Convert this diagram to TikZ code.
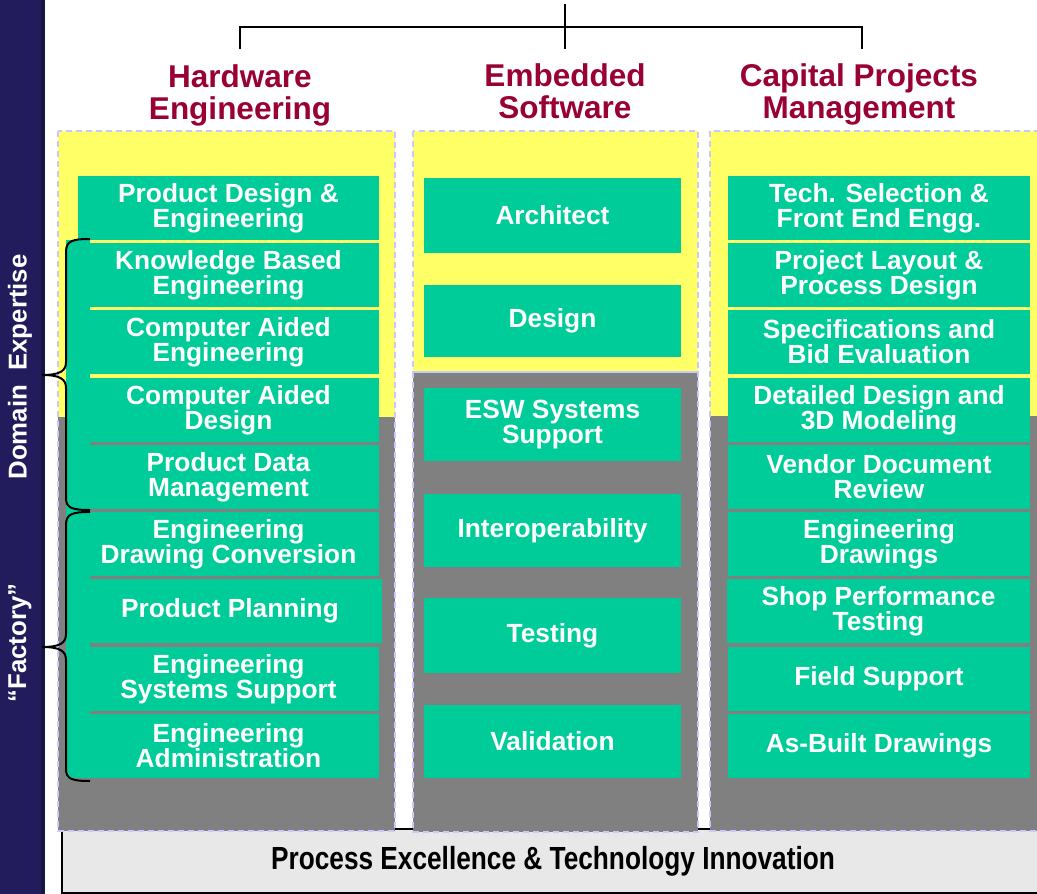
\documentclass[tikz,border=0pt]{standalone}
\usepackage{fontspec}
\setmainfont{Liberation Sans}
\usepackage{graphicx}
\definecolor{boxgreen}{HTML}{00CC99}
\definecolor{colyellow}{HTML}{FFFF66}
\definecolor{colgray}{HTML}{808080}
\definecolor{hdrred}{HTML}{990033}
\definecolor{basegray}{HTML}{E8E8E8}
\definecolor{stripblue}{HTML}{231C5C}
\definecolor{stripdark}{HTML}{191446}
\definecolor{dashlav}{HTML}{C8C8FF}
\newcommand\gbx[6]{\node[gb, minimum width={#4-#2}, minimum height={#5-#3}] (#1) at ({(#2+#4)/2},{(#3+#5)/2}) {#6};}
\begin{document}
\begin{tikzpicture}[x=1pt,y=-1pt,
  gb/.style={fill=boxgreen, text=white, font=\fontsize{26.3}{25}\selectfont\bfseries, align=center, inner sep=0pt},
  hdr/.style={text=hdrred, font=\fontsize{31.5}{32}\selectfont\bfseries, align=center, inner sep=0pt},
  side/.style={text=white, rotate=90, font=\fontsize{25.8}{25}\selectfont\bfseries, inner sep=0pt},
  coldash/.style={draw=dashlav, line width=1.5pt, dash pattern=on 6pt off 4pt},
  tree/.style={draw=black, line width=2pt},
  bracestyle/.style={draw=black, line width=2pt}]
\useasboundingbox (0,0) rectangle (1037,894);
% left strip
\fill[stripblue] (0,0) rectangle (44,894);
\fill[stripdark] (41,0) rectangle (45,894);
\node[side] (dom) at (20,367) {Domain\ \ Expertise};
\node[side] (fac) at (20,643) {“Factory”};
% base bar
\draw[fill=basegray, line width=1.5pt] (62,829) rectangle (1045,893);
\node[font=\fontsize{32}{32}\selectfont\bfseries, inner sep=0pt] (base) at (553,861.5) {\scalebox{0.82}[1]{Process Excellence \& Technology Innovation}};
% columns
\fill[colyellow] (58,131) rectangle (395,417);
\fill[colgray] (58,417) rectangle (395,831);
\draw[coldash] (58,131) rectangle (395,831);
\fill[colyellow] (413,131) rectangle (698,372);
\fill[colgray] (413,372) rectangle (698,832);
\draw[coldash] (413,131) rectangle (698,372);
\draw[coldash] (413,372) rectangle (698,832);
\fill[colyellow] (710,131) rectangle (1045,416);
\fill[colgray] (710,416) rectangle (1045,831);
\draw[coldash] (710,131) rectangle (1045,831);
% headers
\node[hdr] (hw) at (240,95) {Hardware\\Engineering};
\node[hdr] (es) at (565,91) {Embedded\\Software};
\node[hdr] (cp) at (859,94) {Capital Projects\\Management};
% tree
\coordinate (top) at (565,4);
\coordinate (estop) at (565,49);
\coordinate (hwtop) at (240,49);
\coordinate (cptop) at (862,49);
\draw[tree] (hwtop) -- (hwtop |- 0,27) -- (cptop |- 0,27) -- (cptop);
\draw[tree] (top) -- (estop);
% left column boxes
\fill[boxgreen] (66,240) rectangle (90,778);
\gbx{l1}{78}{176}{379}{240}{Product Design \&\\Engineering}
\gbx{l2}{78}{243}{379}{307}{Knowledge Based\\Engineering}
\gbx{l3}{78}{310}{379}{374}{Computer Aided\\Engineering}
\gbx{l4}{78}{378}{379}{442}{Computer Aided\\Design}
\gbx{l5}{78}{445}{379}{509}{Product Data\\Management}
\gbx{l6}{78}{512}{379}{576}{Engineering\\Drawing Conversion}
\gbx{l7}{78}{579}{382}{643}{Product Planning}
\gbx{l8}{78}{647}{379}{711}{Engineering\\Systems Support}
\gbx{l9}{78}{714}{379}{778}{Engineering\\Administration}
\fill[boxgreen] (66,240) rectangle (90,778);
% braces
\draw[bracestyle] (90,239) .. controls (72,239) and (66,241) .. (66,252) -- (66,362)
  .. controls (66,371) and (60,375) .. (42,375) .. controls (60,375) and (66,379) .. (66,388)
  -- (66,498) .. controls (66,508) and (72,510) .. (90,510);
\draw[bracestyle] (90,512) .. controls (72,512) and (66,514) .. (66,525) -- (66,634)
  .. controls (66,643) and (60,647) .. (42,647) .. controls (60,647) and (66,651) .. (66,660)
  -- (66,769) .. controls (66,779) and (72,781) .. (90,781);
% middle column boxes
\gbx{m1}{424}{178}{681}{253}{Architect}
\gbx{m2}{424}{285}{681}{357}{Design}
\gbx{m3}{424}{388}{681}{461}{ESW Systems\\Support}
\gbx{m4}{424}{494}{681}{567}{Interoperability}
\gbx{m5}{424}{598}{681}{673}{Testing}
\gbx{m6}{424}{705}{681}{778}{Validation}
% right column boxes
\gbx{r1}{728}{176}{1030}{240}{Tech. Selection \&\\Front End Engg.}
\gbx{r2}{728}{243}{1030}{307}{Project Layout \&\\Process Design}
\gbx{r3}{728}{310}{1030}{374}{Specifications and\\Bid Evaluation}
\gbx{r4}{728}{378}{1030}{442}{Detailed Design and\\3D Modeling}
\gbx{r5}{728}{445}{1030}{509}{Vendor Document\\Review}
\gbx{r6}{728}{512}{1030}{576}{Engineering\\Drawings}
\gbx{r7}{727}{579}{1030}{643}{Shop Performance\\Testing}
\gbx{r8}{728}{647}{1030}{711}{Field Support}
\gbx{r9}{728}{714}{1030}{778}{As-Built Drawings}
\end{tikzpicture}
\end{document}
